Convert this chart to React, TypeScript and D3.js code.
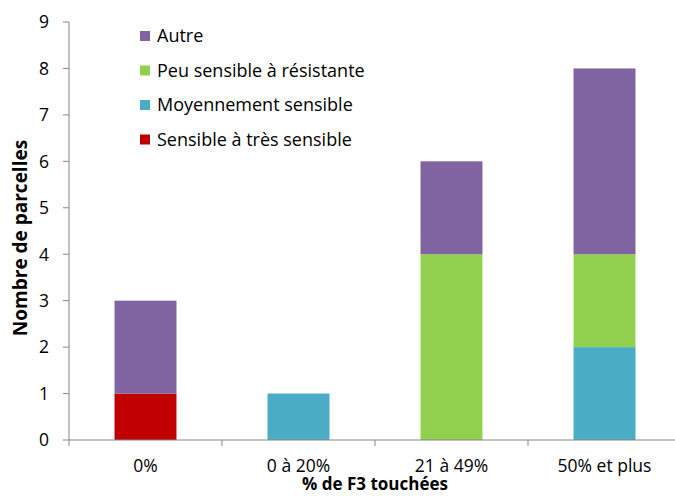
import React from "react";
import * as d3 from "d3";

const categories = ["0%", "0 à 20%", "21 à 49%", "50% et plus"];
const seriesNames = ["Sensible à très sensible", "Moyennement sensible", "Peu sensible à résistante", "Autre"];
const sensible = [1, 0, 0, 0];
const moyen = [0, 1, 0, 2];
const peu = [0, 0, 4, 2];
const autre = [2, 0, 2, 4];
const yTicks = [0, 1, 2, 3, 4, 5, 6, 7, 8, 9];
const colors = ["#C00000", "#4BACC6", "#92D050", "#8064A2"];

const W = 675;
const H = 496;
const font = "'Open Sans', 'Noto Sans', sans-serif";

export default function App() {
  const left = 69;
  const top = 22;
  const bottom = 440;
  const bandW = 153;
  const x = d3
    .scaleBand<string>()
    .domain(categories)
    .range([left, left + bandW * categories.length])
    .paddingInner(0.595)
    .paddingOuter(0.2975);
  const y = d3.scaleLinear().domain([0, 9]).range([bottom, top]);

  const rows = categories.map((c, i) => ({
    cat: c,
    s0: sensible[i],
    s1: moyen[i],
    s2: peu[i],
    s3: autre[i],
  }));
  const stack = d3.stack<any>().keys(["s0", "s1", "s2", "s3"])(rows);

  const legendOrder = [3, 2, 1, 0];
  const axisColor = "#868686";

  return (
    <svg width={W} height={H} style={{ position: "absolute", left: 0, top: 0, display: "block" }} fontFamily={font}>
      <rect width={W} height={H} fill="#fff" />
      {stack.map((layer, li) =>
        layer.map((d, i) =>
          d[1] - d[0] > 0 ? (
            <rect
              key={`${li}-${i}`}
              x={x(categories[i])}
              width={x.bandwidth()}
              y={y(d[1])}
              height={y(d[0]) - y(d[1])}
              fill={colors[li]}
            />
          ) : null
        )
      )}
      {/* y axis */}
      <line x1={left} x2={left} y1={top} y2={bottom} stroke={axisColor} strokeWidth={1} />
      {yTicks.map((t) => (
        <g key={t}>
          <line x1={left - 6} x2={left} y1={y(t)} y2={y(t)} stroke={axisColor} />
          <text x={49} y={y(t)} dy="0.36em" textAnchor="end" fontSize={17.5} fill="#000">
            {t}
          </text>
        </g>
      ))}
      {/* x axis */}
      <line x1={left} x2={W} y1={bottom} y2={bottom} stroke={axisColor} />
      {categories.map((c, i) => (
        <line key={c} x1={left + bandW * i} x2={left + bandW * i} y1={bottom} y2={bottom + 6} stroke={axisColor} />
      ))}
      {categories.map((c) => (
        <text key={c} x={(x(c) as number) + x.bandwidth() / 2} y={472} textAnchor="middle" fontSize={17.5} fill="#000">
          {c}
        </text>
      ))}
      <text x={375} y={490} textAnchor="middle" fontSize={17} fontWeight="bold" fill="#000">
        % de F3 touchées
      </text>
      <text
        transform={`translate(27,${(top + bottom) / 2 + 7}) rotate(-90)`}
        textAnchor="middle"
        fontSize={19}
        fontWeight="bold"
        fill="#000"
      >
        Nombre de parcelles
      </text>
      {/* legend */}
      {legendOrder.map((si, k) => (
        <g key={si} transform={`translate(140,${36 + k * 34.5})`}>
          <rect x={0} y={-5} width={10} height={10} fill={colors[si]} />
          <text x={17} y={0} dy="0.36em" fontSize={18} fill="#000">
            {seriesNames[si]}
          </text>
        </g>
      ))}
    </svg>
  );
}
